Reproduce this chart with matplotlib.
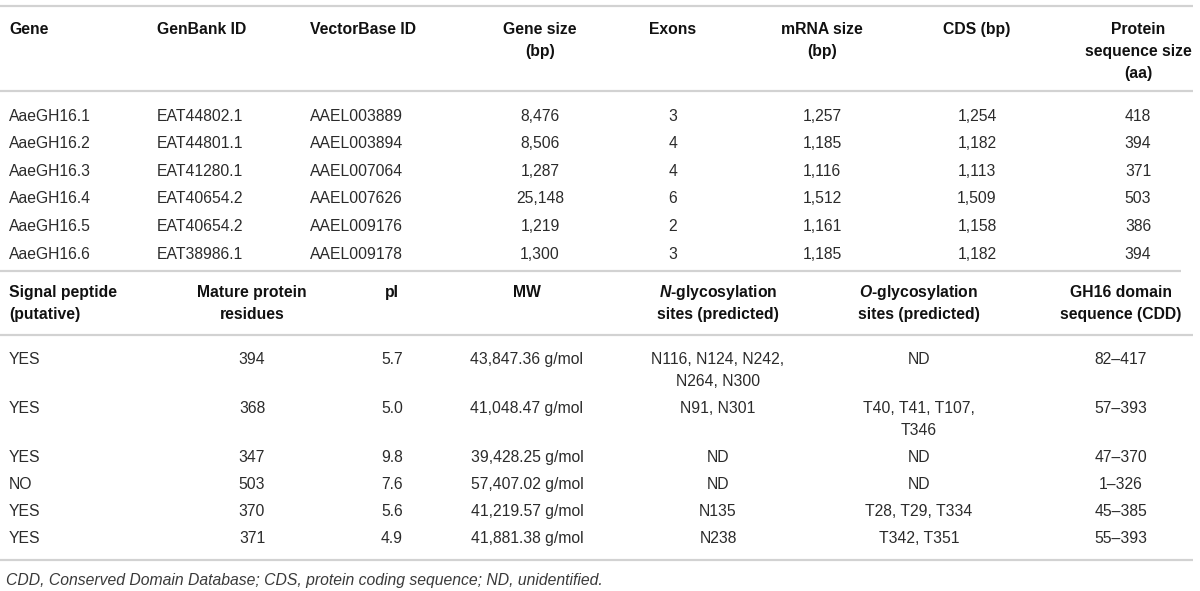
import matplotlib.pyplot as plt

plt.rcParams['font.family'] = ['Liberation Sans', 'DejaVu Sans']
plt.rcParams['mathtext.fontset'] = 'custom'
plt.rcParams['mathtext.it'] = 'Liberation Sans:italic:bold'
plt.rcParams['mathtext.rm'] = 'Liberation Sans:bold'

# ---- table data (upper part) ----
genes = ["AaeGH16.1", "AaeGH16.2", "AaeGH16.3", "AaeGH16.4", "AaeGH16.5", "AaeGH16.6"]
genbank_ids = ["EAT44802.1", "EAT44801.1", "EAT41280.1", "EAT40654.2", "EAT40654.2", "EAT38986.1"]
vectorbase_ids = ["AAEL003889", "AAEL003894", "AAEL007064", "AAEL007626", "AAEL009176", "AAEL009178"]
gene_sizes = [8476, 8506, 1287, 25148, 1219, 1300]
exons = [3, 4, 4, 6, 2, 3]
mrna_sizes = [1257, 1185, 1116, 1512, 1161, 1185]
cds_sizes = [1254, 1182, 1113, 1509, 1158, 1182]
protein_sizes = [418, 394, 371, 503, 386, 394]

# ---- table data (lower part) ----
signal_peptide = ["YES", "YES", "YES", "NO", "YES", "YES"]
mature_residues = [394, 368, 347, 503, 370, 371]
pI = [5.7, 5.0, 9.8, 7.6, 5.6, 4.9]
mw = [43847.36, 41048.47, 39428.25, 57407.02, 41219.57, 41881.38]
n_glyco = ["N116, N124, N242,\nN264, N300", "N91, N301", "ND", "ND", "N135", "N238"]
o_glyco = ["ND", "T40, T41, T107,\nT346", "ND", "ND", "T28, T29, T334", "T342, T351"]
gh16_domain = ["82\u2013417", "57\u2013393", "47\u2013370", "1\u2013326", "45\u2013385", "55\u2013393"]

header_top = ["Gene", "GenBank ID", "VectorBase ID", "Gene size\n(bp)", "Exons",
              "mRNA size\n(bp)", "CDS (bp)", "Protein\nsequence size\n(aa)"]
header_bottom = ["Signal peptide\n(putative)", "Mature protein\nresidues", "pI", "MW",
                 "$\\mathit{N}$-glycosylation\nsites (predicted)",
                 "$\\mathit{O}$-glycosylation\nsites (predicted)",
                 "GH16 domain\nsequence (CDD)"]
footnote = "CDD, Conserved Domain Database; CDS, protein coding sequence; ND, unidentified."

top_cols = [genes, genbank_ids, vectorbase_ids,
            [f"{v:,}" for v in gene_sizes], [str(v) for v in exons],
            [f"{v:,}" for v in mrna_sizes], [f"{v:,}" for v in cds_sizes],
            [str(v) for v in protein_sizes]]
bottom_cols = [signal_peptide, [str(v) for v in mature_residues],
               [f"{v:.1f}" for v in pI], [f"{v:,.2f} g/mol" for v in mw],
               n_glyco, o_glyco, gh16_domain]

# ---- layout (pixel coordinates) ----
top_x = [9, 157, 310, 540, 673, 822, 977, 1138]
top_ha = ["left", "left", "left", "center", "center", "center", "center", "center"]
bot_x = [9, 252, 392, 527, 718, 919, 1121]
bot_ha = ["left", "center", "center", "center", "center", "center", "center"]
line_h = 22
fs = 11.3
base_off = 5.6  # cap-height centre -> baseline
body_color = "#2b2b2b"
rule_color = "#d2d2d2"

fig = plt.figure(figsize=(12, 5.91), dpi=100)
ax = fig.add_axes([0, 0, 1, 1])
ax.set_xlim(0, 1200)
ax.set_ylim(591, 0)
ax.axis("off")


def cell(x, y, s, ha, bold=False, color=body_color, style="normal"):
    for k, line in enumerate(s.split("\n")):
        ax.text(x, y + k * line_h + base_off, line, ha=ha, va="baseline", fontsize=fs,
                fontweight="bold" if bold else "normal", fontstyle=style, color=color)


def rule(y, x1=1193):
    ax.plot([0, x1], [y, y], color=rule_color, lw=1.6, solid_capstyle="butt")


# upper table
rule(6)
for x, h, ha in zip(top_x, header_top, top_ha):
    cell(x, 28, h, ha, bold=True, color="#111111")
rule(91)
row_y = [115 + i * 27.6 for i in range(len(genes))]
for x, col, ha in zip(top_x, top_cols, top_ha):
    for y, v in zip(row_y, col):
        cell(x, y, v, ha)
rule(271, 1181)

# lower table
for x, h, ha in zip(bot_x, header_bottom, bot_ha):
    cell(x, 291, h, ha, bold=True, color="#111111")
rule(335)
y = 358
for i in range(len(signal_peptide)):
    n_lines = max(col[i].count("\n") + 1 for col in bottom_cols)
    for x, col, ha in zip(bot_x, bottom_cols, bot_ha):
        cell(x, y, col[i], ha)
    y += 27 + (n_lines - 1) * line_h
rule(560)

cell(6, 579, footnote, "left", color="#3a3a3a", style="italic")

fig.savefig("out.png", dpi=100)
